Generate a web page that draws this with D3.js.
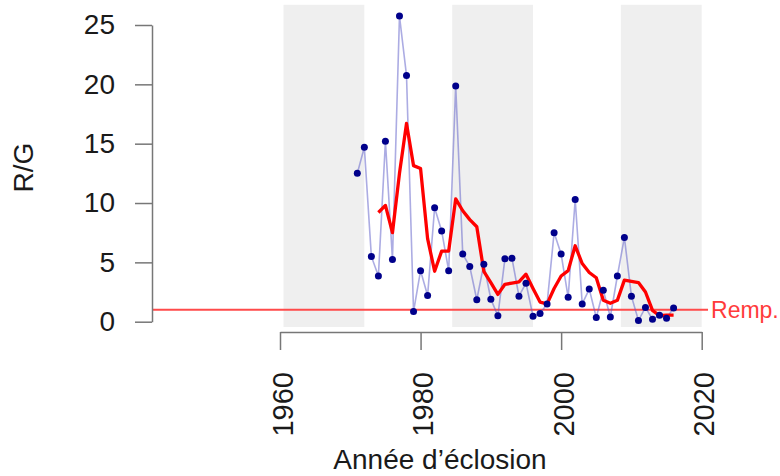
<!DOCTYPE html>
<html><head><meta charset="utf-8">
<script src="https://cdn.jsdelivr.net/npm/d3@7"></script>
<style>
html,body{margin:0;padding:0;background:#fff;}
svg{display:block;font-family:"Liberation Sans",Arial,Helvetica,sans-serif;}
</style></head>
<body><svg id="chart" width="780" height="476"></svg>
<script>
// ---- data ----
const years = d3.range(1971, 2017);
const rg = [12.5, 14.7, 5.5, 3.85, 15.2, 5.25, 25.75, 20.75, 0.85, 4.3,
            2.2, 9.6, 7.65, 4.3, 19.85, 5.7, 4.65, 1.85, 4.85, 1.9,
            0.5, 5.3, 5.35, 2.15, 3.25, 0.45, 0.7, 1.5, 7.5, 5.7,
            2.05, 10.3, 1.5, 2.75, 0.35, 2.65, 0.4, 3.85, 7.1, 2.15,
            0.1, 1.2, 0.2, 0.55, 0.3, 1.15];
const meanYears = d3.range(1974, 2017);
const meanRG = [9.2, 9.8, 7.5, 12.5, 16.7, 13.15, 12.9, 7.0, 4.25, 5.95,
                5.95, 10.35, 9.35, 8.6, 8.0, 4.25, 3.3, 2.3, 3.15, 3.25,
                3.35, 4.0, 2.8, 1.65, 1.5, 2.8, 3.85, 4.3, 6.4, 4.9,
                4.15, 3.7, 1.8, 1.55, 1.8, 3.5, 3.4, 3.3, 2.5, 0.95,
                0.5, 0.55, 0.55];
const bandStart = [1960.5, 1984.5, 2008.5];
const bandEnd   = [1972, 1996, 2020];
const xTicks = [1960, 1980, 2000, 2020];
const yTicks = [0, 5, 10, 15, 20, 25];
const replacement = 1;
const xLimits = [1941.8, 2020.9];
const yLimits = [-0.45, 26.7];
const xTitle = "Année d’éclosion";
const yTitle = "R/G";
const replLabel = "Remp.";

// ---- scales ----
const svg = d3.select("#chart");
const x = d3.scaleLinear().domain([1960, 2020]).range([280, 701.7]);
const y = d3.scaleLinear().domain([0, 25]).range([321.7, 25]);

// bands
svg.append("g").selectAll("rect").data(bandStart).join("rect")
  .attr("x", (d) => x(d))
  .attr("width", (d, i) => x(bandEnd[i]) - x(d))
  .attr("y", y(yLimits[1]))
  .attr("height", y(yLimits[0]) - y(yLimits[1]))
  .attr("fill", "#efefef");

// replacement line
svg.append("line")
  .attr("x1", x(xLimits[0])).attr("x2", x(xLimits[1]))
  .attr("y1", y(replacement)).attr("y2", y(replacement))
  .attr("stroke", "#ff4a4a").attr("stroke-width", 2);
svg.append("text")
  .attr("x", x(xLimits[1]) + 3).attr("y", y(replacement))
  .attr("dy", "0.35em")
  .attr("font-size", 23).attr("fill", "#ff3b3b")
  .text(replLabel);

// blue series line
const line = d3.line().x((d, i) => x(years[i])).y((d) => y(d));
svg.append("path").datum(rg)
  .attr("d", line)
  .attr("fill", "none")
  .attr("stroke", "#5a5ac8").attr("stroke-opacity", 0.5)
  .attr("stroke-width", 1.6);

// running mean
const mline = d3.line().x((d, i) => x(meanYears[i])).y((d) => y(d));
svg.append("path").datum(meanRG)
  .attr("d", mline)
  .attr("fill", "none")
  .attr("stroke", "#ff0000")
  .attr("stroke-width", 3.3)
  .attr("stroke-linejoin", "round");

// points
svg.append("g").selectAll("circle").data(rg).join("circle")
  .attr("cx", (d, i) => x(years[i]))
  .attr("cy", (d) => y(d))
  .attr("r", 3.5)
  .attr("fill", "#00008b");

// axes
const yAxis = svg.append("g").attr("transform", "translate(152,0)")
  .call(d3.axisLeft(y).tickValues(yTicks).tickSize(17).tickSizeOuter(0).tickPadding(20));
const xAxis = svg.append("g").attr("transform", "translate(0,332)")
  .call(d3.axisBottom(x).tickValues(xTicks).tickFormat(d3.format("d")).tickSize(18).tickSizeOuter(0));
[yAxis, xAxis].forEach((g) => {
  g.select(".domain").attr("stroke", "#777").attr("stroke-width", 1.5);
  g.selectAll(".tick line").attr("stroke", "#777").attr("stroke-width", 1.5);
  g.selectAll("text").attr("fill", "#1a1a1a").attr("font-family", "'Liberation Sans',Arial,sans-serif");
});
yAxis.selectAll("text").attr("font-size", 28);
xAxis.selectAll(".tick text")
  .attr("font-size", 29)
  .attr("text-anchor", "end")
  .attr("dy", null)
  .attr("y", 0)
  .attr("transform", "translate(12,40) rotate(-90)");

// titles
svg.append("text")
  .attr("x", 440).attr("y", 469)
  .attr("text-anchor", "middle")
  .attr("font-size", 28).attr("fill", "#1a1a1a")
  .text(xTitle);
svg.append("text")
  .attr("transform", "translate(33,167.5) rotate(-90)")
  .attr("text-anchor", "middle")
  .attr("font-size", 28).attr("fill", "#1a1a1a")
  .text(yTitle);
</script></body></html>
